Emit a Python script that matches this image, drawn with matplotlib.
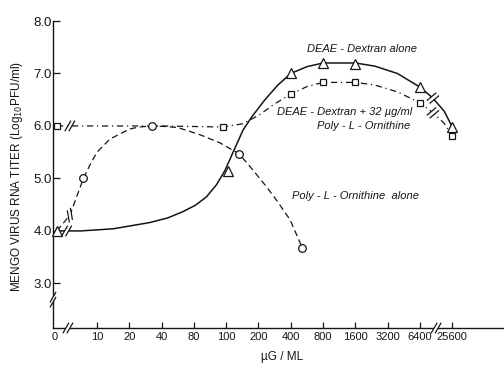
import numpy as np
import matplotlib
matplotlib.use("Agg")
import matplotlib.pyplot as plt
from matplotlib.transforms import ScaledTranslation
from matplotlib.patches import Polygon

plt.rcParams['font.family'] = ['Liberation Sans', 'DejaVu Sans']

# x axis is categorical: positions of the dose ticks (0 sits next to the axis)
tick_pos = [-0.3, 1, 2, 3, 4, 5, 6, 7, 8, 9, 10, 11, 12]
tick_lbl = ['0', '10', '20', '40', '80', '100', '200', '400', '800', '1600', '3200', '6400', '25600']
y_ticks = [3.0, 4.0, 5.0, 6.0, 7.0, 8.0]

# markers
tri_x = [-0.24, 5.06, 7.0, 8.0, 9.0, 11.0, 12.0]
tri_y = [4.0, 5.15, 7.0, 7.2, 7.18, 6.74, 5.98]
sq_x = [-0.24, 4.9, 7.0, 8.0, 9.0, 11.0, 12.0]
sq_y = [6.0, 5.98, 6.6, 6.83, 6.83, 6.44, 5.81]
circ_x = [0.58, 2.69, 5.4, 7.36]
circ_y = [5.0, 6.0, 5.47, 3.67]

# hand-drawn curves
solid_x = [-0.24, 0.5, 1.5, 2.64, 3.2, 3.67, 4.05, 4.39, 4.7, 4.96, 5.25, 5.52, 5.8, 6.2, 6.6, 7.0, 7.5, 8.0,
           9.0, 9.6, 10.3, 11.0, 11.4, 11.75, 12.0]
solid_y = [4.0, 4.0, 4.04, 4.16, 4.25, 4.37, 4.49, 4.65, 4.88, 5.15, 5.55, 5.92, 6.18, 6.5, 6.78, 7.0, 7.13, 7.2,
           7.2, 7.14, 7.0, 6.74, 6.53, 6.28, 5.98]
dash_x = [-0.24, 0.16, 0.58, 0.8, 1.0, 1.4, 2.0, 2.3, 2.69, 3.1, 3.5, 4.2, 4.8, 5.4, 5.8, 6.25, 6.6, 6.98, 7.36]
dash_y = [4.0, 4.3, 5.0, 5.28, 5.5, 5.75, 5.94, 5.98, 6.0, 5.99, 5.97, 5.83, 5.68, 5.47, 5.18, 4.84, 4.55, 4.21, 3.67]
dd_x = [-0.24, 1.0, 3.0, 4.9, 5.5, 6.0, 6.5, 6.98, 7.5, 8.0, 9.0, 9.6, 10.3, 11.0, 11.4, 11.75, 12.0]
dd_y = [6.0, 6.0, 6.0, 5.98, 6.04, 6.2, 6.42, 6.6, 6.75, 6.83, 6.83, 6.78, 6.65, 6.44, 6.25, 6.05, 5.81]

ink = '#151515'
fig = plt.figure(figsize=(5.04, 3.66), dpi=100)
ax = fig.add_axes([53/504, 1-328/366, 450/504, 307/366])
ax.set_xlim(-0.362, 13.57)
ax.set_ylim(2.15, 8.0)

ax.plot(solid_x, solid_y, color=ink, lw=1.1, zorder=2)
ax.plot(dash_x, dash_y, color=ink, lw=0.9, ls=(0, (5, 3)), zorder=2)
ax.plot(dd_x, dd_y, color=ink, lw=0.9, ls=(0, (5, 3, 1, 3)), zorder=2)
ax.plot(tri_x, tri_y, ls='none', marker='^', ms=6.5, mfc='white', mec=ink, mew=0.9, zorder=4, clip_on=False)
ax.plot(sq_x, sq_y, ls='none', marker='s', ms=5, mfc='white', mec=ink, mew=0.9, zorder=4, clip_on=False)
ax.plot(circ_x, circ_y, ls='none', marker='o', ms=5.5, mfc='white', mec=ink, mew=0.9, zorder=4, clip_on=False)


def brk(x, y, ang=60, off=0, ln=0.055, gap=0.04):
    tr = fig.dpi_scale_trans + ScaledTranslation(x, y, ax.transData)
    s = ln * np.array([np.cos(np.radians(ang)), np.sin(np.radians(ang))])
    o = gap / 2 * np.array([np.cos(np.radians(off)), np.sin(np.radians(off))])
    ax.add_patch(Polygon([-o - s, o - s, o + s, -o + s], closed=True, fc='white', ec='none',
                         transform=tr, zorder=3, clip_on=False))
    for sg in (-1, 1):
        p, q = sg * o - s, sg * o + s
        ax.plot([p[0], q[0]], [p[1], q[1]], color=ink, lw=0.9, transform=tr, zorder=3, clip_on=False)


# breaks on the curves and on the axes
brk(0.06, 4.0)
brk(0.16, 4.3, ang=100, off=40)
brk(0.16, 6.0)
brk(11.4, 6.53, ang=40, off=-45)
brk(11.4, 6.25, ang=40, off=-45)
brk(-0.362, 2.69, ang=60, off=90, gap=0.05)
brk(0.10, 2.15)
brk(11.5, 2.15)

for s in ['top', 'right']:
    ax.spines[s].set_visible(False)
for s in ['left', 'bottom']:
    ax.spines[s].set_linewidth(1.0)
    ax.spines[s].set_color(ink)

ax.set_xticks(tick_pos)
ax.set_xticklabels(tick_lbl, fontsize=8)
ax.set_yticks(y_ticks)
ax.set_yticklabels([f'{v:.1f}' for v in y_ticks], fontsize=9.5)
ax.tick_params(axis='x', direction='in', length=4, width=0.9, pad=3, colors=ink)
ax.tick_params(axis='y', direction='in', length=5, width=0.9, pad=1, colors=ink)
ax.xaxis.get_major_ticks()[0].tick1line.set_visible(False)

it = dict(fontsize=8, style='italic', color=ink)
ax.text(9.2, 7.47, 'DEAE - Dextran alone', ha='center', va='center', **it)
ax.text(6.57, 6.27, 'DEAE - Dextran + 32 µg/ml', ha='left', va='center', **it)
ax.text(7.81, 6.0, 'Poly - L - Ornithine', ha='left', va='center', **it)
ax.text(7.04, 4.67, 'Poly - L - Ornithine  alone', ha='left', va='center', **it)

fig.text(17/504, 1-177/366, 'MENGO VIRUS RNA TITER (Log$_{10}$PFU/ml)', rotation=90,
         ha='center', va='center', fontsize=8.5, color=ink)
fig.text(282/504, 1-357/366, 'µG / ML', ha='center', va='center', fontsize=8.5, color=ink)

fig.savefig('out.png', dpi=100)
